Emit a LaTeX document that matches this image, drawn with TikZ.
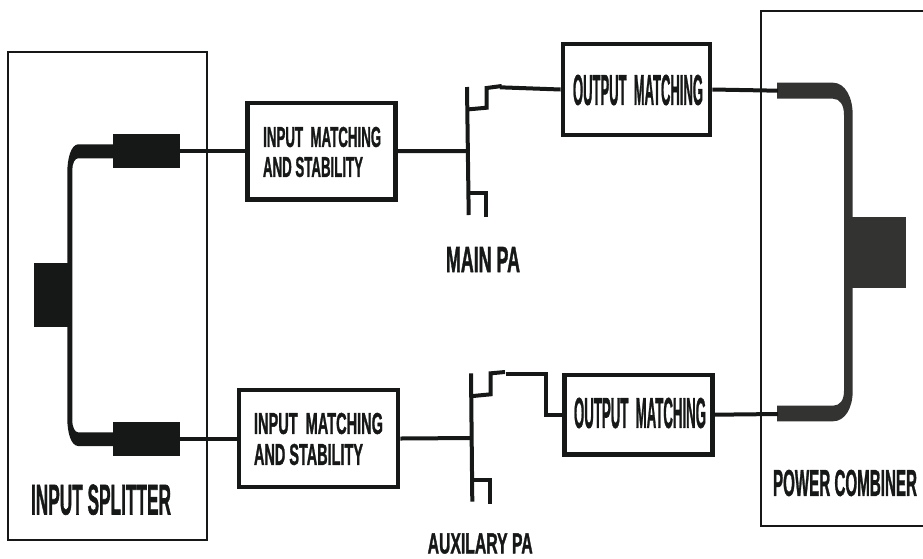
\documentclass[tikz,border=0pt]{standalone}
\usepackage{graphicx}
\usepackage{fontspec}
\setmainfont[FakeBold=1.7]{Liberation Sans Bold}
\definecolor{ink}{HTML}{161817}
\definecolor{ink2}{HTML}{333332}
\newcommand{\fitlabel}[3]{\resizebox{#1pt}{#2pt}{#3}}
\newcommand{\gap}{\hspace{0.55em}}
\tikzset{
  wire/.style={draw=ink,line width=4pt},
  block/.style={draw=ink,line width=4.7pt,fill=white,inner sep=0pt},
  frame/.style={draw=ink,line width=2pt},
  lab/.style={text=ink,inner sep=0pt,anchor=center}
}
\begin{document}
\begin{tikzpicture}[x=1pt,y=-1pt]
\useasboundingbox (0,0) rectangle (923,558);
% frames
\draw[frame] (8.3,51.5) rectangle (207,540);
\draw[frame] (761,11) rectangle (935,526);
% splitter
\fill[ink] (34,263) rectangle (72.3,327);
\fill[ink] (113.3,134.3) rectangle (180.3,168);
\fill[ink] (113.3,422.3) rectangle (180.3,455.7);
\fill[ink] (114,144.3) -- (78,144.3) .. controls (71,145) and (67.3,158) .. (67.3,173) -- (67.3,418) .. controls (67.3,433) and (71,445.5) .. (78,446) -- (114,446) -- (114,432.3) -- (78,432.3) .. controls (75,432) and (72.3,428) .. (72.3,420) -- (72.3,170) .. controls (72.3,163) and (75,158.3) .. (78,158.3) -- (114,158.3) -- cycle;
% combiner
\fill[ink2] (852,216.7) rectangle (906,287.7);
\fill[ink2] (777,82.7) -- (833,82.7) .. controls (845,82.7) and (852.7,97) .. (852.7,115) -- (852.7,391) .. controls (852.7,408) and (845,421.3) .. (833,421.3) -- (777,421.3) -- (777,405.7) -- (833,405.7) .. controls (840,405.7) and (844,400) .. (844,391) -- (844,115) .. controls (844,105) and (840,98.7) .. (833,98.7) -- (777,98.7) -- cycle;
% blocks
\node[block,minimum width=148pt,minimum height=96.5pt] (in1) at (321.2,151.2) {};
\node[block,minimum width=147pt,minimum height=91pt] (out1) at (636.5,89.5) {};
\node[block,minimum width=159pt,minimum height=97pt] (in2) at (318.5,438.5) {};
\node[block,minimum width=148pt,minimum height=79.5pt] (out2) at (638.5,414.7) {};
\node[lab] at (322.2,137) {\fitlabel{118}{20}{INPUT\gap MATCHING}};
\node[lab] at (313,167) {\fitlabel{100}{20}{AND STABILITY}};
\node[lab] at (318.5,423.5) {\fitlabel{129}{21}{INPUT\gap MATCHING}};
\node[lab] at (308.5,454.5) {\fitlabel{109}{21}{AND STABILITY}};
\node[lab] at (638,90) {\fitlabel{130}{30}{OUTPUT\gap MATCHING}};
\node[lab] at (640,413) {\fitlabel{132}{30}{OUTPUT\gap MATCHING}};
% named connection points
\coordinate (s1) at (180,151.2);
\coordinate (s2) at (180,438.5);
\coordinate (g1) at (467.7,151);
\coordinate (g2) at (472,438);
\coordinate (d1) at (500,87.3);
\coordinate (d2) at (505.7,373.7);
\coordinate (c1) at (778,90.7);
\coordinate (c2) at (778,414);
\draw[wire] (s1) -- (in1.west);
\draw[wire] (s2) -- (in2.west);
\draw[wire] (in1.east) -- (g1);
\draw[wire] (in2.east) -- (g2);
\draw[wire] (d1) -- (out1.west);
\draw[wire] (d2) -- (545.7,373.7) -- (545.7,414.7) -- (out2.west);
\draw[wire] (out1.east) -- (c1);
\draw[wire] (out2.east) -- (c2);
% transistor 1
\draw[wire] (467,87) -- (468.7,215);
\draw[wire] (469,109.3) -- (486.7,107.7) -- (486.7,88) -- (501.7,86);
\draw[wire] (469,193.3) -- (486,193.3) -- (486,217.3);
% transistor 2
\draw[wire] (471,373.3) -- (472.3,501.7);
\draw[wire] (473,396) -- (490.7,394.3) -- (490.7,373.3) -- (505,372);
\draw[wire] (473,480) -- (490,480) -- (490,504);
% labels
\node[lab] at (483,259.5) {\fitlabel{74}{25}{MAIN PA}};
\node[lab] at (480.2,543.5) {\fitlabel{105}{20}{AUXILARY PA}};
\node[lab] at (101,499.7) {\fitlabel{140}{30}{INPUT SPLITTER}};
\node[lab] at (845,483) {\fitlabel{144}{26}{POWER COMBINER}};
\end{tikzpicture}
\end{document}
